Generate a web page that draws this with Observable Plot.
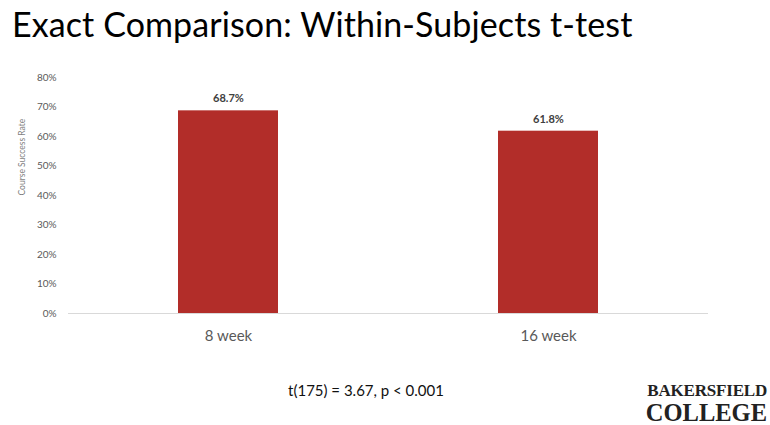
<!DOCTYPE html>
<html>
<head>
<meta charset="utf-8">
<script src="https://cdn.jsdelivr.net/npm/d3@7"></script>
<script src="https://cdn.jsdelivr.net/npm/@observablehq/plot@0.6"></script>
<style>
  html, body { margin: 0; padding: 0; background: #fff; }
  #page { position: relative; width: 770px; height: 425px; overflow: hidden; font-family: Lato, "Noto Sans", sans-serif; }
  #title { position: absolute; left: 12px; top: 3px; font-size: 34px; color: #000; white-space: nowrap; letter-spacing: 0.1px; }
  #chart { position: absolute; left: 0; top: 60px; }
  #caption { position: absolute; left: 0; width: 732px; top: 381px; text-align: center; font-size: 15px; color: #111; }
  #logo { position: absolute; left: 600px; top: 378px; }
</style>
</head>
<body>
<div id="page">
  <div id="title">Exact Comparison: Within-Subjects t-test</div>
  <div id="chart"></div>
  <div id="caption">t(175) = 3.67, p &lt; 0.001</div>
  <svg id="logo" width="168" height="47" font-family="'Liberation Serif', 'DejaVu Serif', serif" font-weight="bold" fill="#222" text-anchor="end">
    <text x="167" y="17.5" font-size="17" letter-spacing="-0.2">BAKERSFIELD</text>
    <text x="167" y="43" font-size="24.5">COLLEGE</text>
  </svg>
</div>
<script>
// Course success rate (%) by term length
const terms = ["8 week", "16 week"];
const successRate = [68.7, 61.8];
const yTicks = [0, 10, 20, 30, 40, 50, 60, 70, 80];
const yTitle = "Course Success Rate";

const rows = terms.map((term, i) => ({term, rate: successRate[i]}));

const chart = Plot.plot({
  width: 770,
  height: 300,
  marginLeft: 68,
  marginRight: 62,
  marginTop: 17,
  marginBottom: 47,
  style: {fontFamily: "Lato, 'Noto Sans', sans-serif", background: "transparent"},
  x: {domain: terms, paddingInner: 0.6875, paddingOuter: 0.34375, label: null},
  y: {domain: [0, 80], label: null},
  marks: [
    Plot.axisY({ticks: yTicks, tickFormat: d => d + "%", tickSize: 0, tickPadding: 12, fontSize: 10, color: "#595959"}),
    Plot.axisX({tickSize: 0, tickPadding: 17, fontSize: 15, color: "#595959"}),
    Plot.barY(rows, {x: "term", y: "rate", fill: "#B22D29"}),
    Plot.ruleY([0], {stroke: "#d9d9d9", strokeWidth: 1}),
    Plot.text(rows, {x: "term", y: "rate", text: d => d.rate.toFixed(1) + "%", dy: -12, fontSize: 11, fontWeight: "bold", fill: "#404040"}),
    Plot.text([yTitle], {frameAnchor: "left", rotate: -90, dx: -46, fontSize: 8.5, fill: "#7f7f7f"})
  ]
});
document.getElementById("chart").appendChild(chart);
</script>
</body>
</html>
